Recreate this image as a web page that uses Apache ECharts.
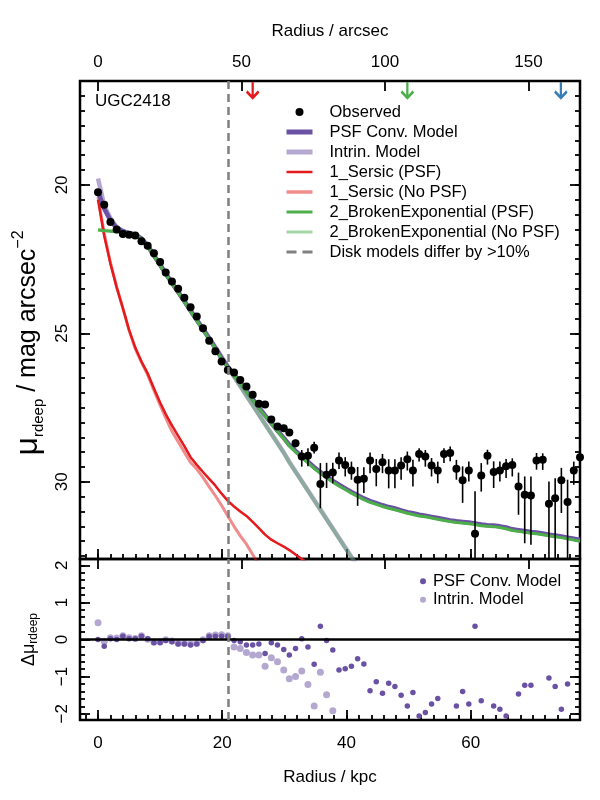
<!DOCTYPE html>
<html>
<head>
<meta charset="utf-8">
<script src="https://cdn.jsdelivr.net/npm/echarts@6/dist/echarts.min.js"></script>
<style>
  html, body { margin: 0; padding: 0; background: #fff; }
  #chart { width: 600px; height: 800px; }
</style>
</head>
<body>
<div id="chart"></div>
<script>
// ---- data (radius in kpc, surface brightness in mag arcsec^-2) ----
const radiusKpc = [
  0.0, 1.0, 2.0, 3.0, 4.0, 5.0, 6.0, 7.0, 8.0, 9.0,
  10.0, 10.9, 11.9, 12.9, 13.9, 14.9, 15.9, 16.9, 17.9, 18.9,
  19.9, 20.9, 21.9, 22.9, 23.9, 24.9, 25.9, 26.9, 27.9, 28.9,
  29.9, 30.8, 31.8, 32.8, 33.8, 34.8, 35.8, 36.8, 37.8, 38.8,
  39.8, 40.8, 41.8, 42.8, 43.8, 44.8, 45.8, 46.8, 47.8, 48.8,
  49.8, 50.7, 51.7, 52.7, 53.7, 54.7, 55.7, 56.7, 57.7, 58.7,
  59.7, 60.7, 61.7, 62.7, 63.7, 64.7, 65.7, 66.7, 67.7, 68.7,
  69.7, 70.6, 71.6, 72.6, 73.6, 74.6, 75.6, 76.6, 77.6
]
const muObs = [
  20.25, 20.67, 21.25, 21.5, 21.65, 21.68, 21.7, 21.9, 22.05, 22.3,
  22.6, 22.95, 23.25, 23.5, 23.8, 24.12, 24.43, 24.83, 25.25, 25.6,
  25.95, 26.23, 26.32, 26.57, 26.79, 27.07, 27.37, 27.4, 27.9, 28.14,
  28.2, 28.34, 28.7, 29.15, 29.12, 28.85, 30.07, 29.76, 29.69, 29.28,
  29.43, 29.62, 29.93, 29.9, 29.28, 29.57, 29.34, 29.62, 29.62, 29.45,
  29.24, 29.62, 29.06, 29.15, 29.45, 29.62, 29.06, 29.03, 29.56, 29.95,
  29.62, 31.75, 29.79, 29.12, 29.67, 29.62, 29.48, 29.43, 30.16, 30.44,
  30.46, 29.28, 29.26, 30.74, 30.55, 29.95, 30.68, 29.62, 29.17
]
const muErrBright = [
  0.03, 0.03, 0.03, 0.03, 0.03, 0.03, 0.03, 0.03, 0.03, 0.03,
  0.03, 0.03, 0.03, 0.03, 0.03, 0.03, 0.03, 0.03, 0.03, 0.03,
  0.04, 0.04, 0.05, 0.05, 0.05, 0.06, 0.06, 0.06, 0.07, 0.08,
  0.08, 0.09, 0.12, 0.22, 0.25, 0.2, 0.7, 0.4, 0.33, 0.27,
  0.26, 0.3, 0.43, 0.39, 0.27, 0.34, 0.28, 0.38, 0.38, 0.28,
  0.26, 0.36, 0.19, 0.22, 0.25, 0.3, 0.19, 0.22, 0.3, 0.47,
  0.3, 1.43, 0.42, 0.2, 0.36, 0.3, 0.25, 0.22, 0.47, 0.62,
  0.64, 0.25, 0.22, 0.75, 0.67, 0.42, 0.75, 0.3, 0.19
]
const muErrFaint = [
  0.03, 0.03, 0.03, 0.03, 0.03, 0.03, 0.03, 0.03, 0.03, 0.03,
  0.03, 0.03, 0.03, 0.03, 0.03, 0.03, 0.03, 0.03, 0.03, 0.03,
  0.04, 0.04, 0.05, 0.05, 0.06, 0.06, 0.07, 0.07, 0.08, 0.09,
  0.09, 0.1, 0.14, 0.34, 0.36, 0.2, 0.82, 0.45, 0.36, 0.29,
  0.39, 0.31, 0.88, 0.48, 0.43, 0.58, 0.37, 0.6, 0.6, 0.48,
  0.38, 0.54, 0.26, 0.34, 0.37, 0.43, 0.31, 0.28, 0.37, 0.76,
  0.37, 2.5, 0.54, 0.3, 0.54, 0.37, 0.39, 0.39, 0.95, 1.63,
  1.66, 0.31, 0.34, 2.5, 2.5, 1.1, 2.5, 0.48, 0.31
]
const muPsfModel = [
  20.22, 20.8, 21.2, 21.45, 21.56, 21.63, 21.68, 21.81, 22.05, 22.38,
  22.69, 22.99, 23.3, 23.61, 23.92, 24.24, 24.55, 24.86, 25.17, 25.5,
  25.84, 26.13, 26.38, 26.65, 26.93, 27.21, 27.49, 27.76, 28.02, 28.28,
  28.52, 28.76, 28.96, 29.14, 29.32, 29.51, 29.67, 29.82, 29.97, 30.1,
  30.22, 30.34, 30.45, 30.56, 30.65, 30.72, 30.79, 30.85, 30.9, 30.96,
  31.02, 31.06, 31.11, 31.14, 31.18, 31.22, 31.26, 31.3, 31.33, 31.35,
  31.37, 31.4, 31.44, 31.46, 31.47, 31.5, 31.54, 31.6, 31.63, 31.66,
  31.69, 31.71, 31.74, 31.78, 31.81, 31.84, 31.88, 31.92, 31.96
]
const muIntrinModel = [
  19.78, 20.7, 21.12, 21.42, 21.55, 21.62, 21.67, 21.8, 22.04, 22.37,
  22.68, 22.98, 23.29, 23.6, 23.91, 24.22, 24.53, 24.84, 25.15, 25.47,
  25.79, 26.13, 26.45, 26.77, 27.09, 27.41, 27.73, 28.05, 28.37, 28.69,
  29.01, 29.33, 29.65, 29.97, 30.29, 30.61, 30.93, 31.25, 31.57, 31.89,
  32.21, 32.53, 32.85, 33.17, null, null, null, null, null, null,
  null, null, null, null, null, null, null, null, null, null,
  null, null, null, null, null, null, null, null, null, null,
  null, null, null, null, null, null, null, null, null
]
const muSersicPsf = [
  20.5, 21.72, 22.65, 23.45, 24.15, 24.88, 25.48, 25.95, 26.35, 26.85,
  27.33, 27.72, 28.1, 28.45, 28.8, 29.17, 29.43, 29.67, 29.9, 30.13,
  30.4, 30.64, 30.83, 31.0, 31.15, 31.35, 31.56, 31.78, 31.95, 32.07,
  32.18, 32.3, 32.45, 32.6, 32.75, 32.9, null, null, null, null,
  null, null, null, null, null, null, null, null, null, null,
  null, null, null, null, null, null, null, null, null, null,
  null, null, null, null, null, null, null, null, null, null,
  null, null, null, null, null, null, null, null, null
]
const muSersicNoPsf = [
  20.4, 21.62, 22.62, 23.43, 24.15, 24.9, 25.52, 25.98, 26.4, 26.92,
  27.42, 27.85, 28.3, 28.65, 29.0, 29.35, 29.57, 29.85, 30.17, 30.47,
  30.8, 31.15, 31.5, 31.82, 32.1, 32.45, 32.8, 33.1, null, null,
  null, null, null, null, null, null, null, null, null, null,
  null, null, null, null, null, null, null, null, null, null,
  null, null, null, null, null, null, null, null, null, null,
  null, null, null, null, null, null, null, null, null, null,
  null, null, null, null, null, null, null, null, null
]
const muBrokenExpPsf = [
  21.52, 21.54, 21.56, 21.58, 21.6, 21.63, 21.67, 21.82, 22.07, 22.4,
  22.71, 23.01, 23.32, 23.63, 23.94, 24.26, 24.57, 24.88, 25.19, 25.52,
  25.86, 26.16, 26.41, 26.68, 26.96, 27.24, 27.52, 27.79, 28.05, 28.31,
  28.55, 28.79, 28.99, 29.18, 29.36, 29.55, 29.71, 29.86, 30.01, 30.14,
  30.26, 30.38, 30.49, 30.6, 30.69, 30.76, 30.83, 30.89, 30.94, 31.0,
  31.06, 31.1, 31.15, 31.18, 31.22, 31.26, 31.3, 31.34, 31.37, 31.39,
  31.41, 31.44, 31.48, 31.5, 31.51, 31.54, 31.58, 31.64, 31.67, 31.7,
  31.73, 31.75, 31.78, 31.82, 31.85, 31.88, 31.92, 31.96, 32.0
]
const muBrokenExpNoPsf = [
  21.5, 21.52, 21.54, 21.56, 21.58, 21.61, 21.65, 21.8, 22.06, 22.39,
  22.7, 23.0, 23.31, 23.62, 23.93, 24.24, 24.55, 24.86, 25.17, 25.49,
  25.81, 26.15, 26.47, 26.79, 27.11, 27.43, 27.75, 28.07, 28.39, 28.71,
  29.03, 29.35, 29.67, 29.99, 30.31, 30.63, 30.95, 31.27, 31.59, 31.91,
  32.23, 32.55, 32.87, 33.19, null, null, null, null, null, null,
  null, null, null, null, null, null, null, null, null, null,
  null, null, null, null, null, null, null, null, null, null,
  null, null, null, null, null, null, null, null, null
]
// residuals (observed - model), lower panel
const residPsf = [
  0.0, -0.18, 0.02, 0.0, 0.09, 0.02, 0.02, 0.09, 0.02, -0.09,
  -0.09, -0.03, -0.06, -0.12, -0.12, -0.15, -0.12, -0.03, 0.08, 0.09,
  0.09, 0.09, -0.03, -0.06, -0.15, -0.15, -0.12, -0.38, -0.09, -0.15,
  -0.27, -0.42, -0.24, 0.02, -0.2, -0.67, 0.36, -0.03, -0.28, -0.82,
  -0.79, -0.72, -0.52, -0.66, -1.38, -1.14, -1.45, -1.18, -1.27, -1.5,
  -1.79, -1.43, -2.06, -1.97, -1.74, -1.59, -2.2, -2.27, -1.79, -1.4,
  -1.74, 0.36, -1.65, -2.34, -1.79, -1.88, -2.06, -2.18, -1.47, -1.23,
  -1.23, -2.43, -2.48, -1.04, -1.27, -1.88, -1.2, -2.28, -2.79
]
const residIntrin = [
  0.45, -0.05, 0.05, 0.04, 0.1, 0.05, 0.03, 0.1, 0.01, -0.07,
  -0.06, -0.01, -0.04, -0.1, -0.1, -0.12, -0.1, -0.01, 0.1, 0.12,
  0.13, 0.1, -0.2, -0.24, -0.35, -0.42, -0.42, -0.72, -0.49, -0.6,
  -0.82, -1.06, -1.0, -0.85, -1.21, -1.79, -0.88, -1.49, -1.92, -2.61,
  -2.78, -2.92, null, null, null, null, null, null, null, null,
  null, null, null, null, null, null, null, null, null, null,
  null, null, null, null, null, null, null, null, null, null,
  null, null, null, null, null, null, null, null, null
]
const arrowArcsec = [53.9, 107.8, 161.3]
const arrowColors = ['#E41A1C', '#4DAF4A', '#377EB8']
const diskDiffKpc = 20.9

const kpcTicks = [0, 20, 40, 60]
const arcsecTicks = [0, 50, 100, 150]
const muTicks = [20, 25, 30]
const residTicks = [-2, -1, 0, 1, 2]

// ---- layout / style ----
const FONT = 'Liberation Sans, Arial, sans-serif'
const KPC_PER_ARCSEC = 0.462
const KPC_MIN = -2.9
const KPC_MAX = 77.6
const MU_MIN = 16.5
const MU_MAX = 32.6
const RES_MIN = -2.17
const RES_MAX = 2.17
const ARROW_MU = 16.8

const PURPLE = '#6A51A3'
const PURPLE_LIGHT = 'rgba(106,81,163,0.5)'
const PURPLE_LIGHT_KEY = '#B4A8D1'
const RED = '#E41A1C'
const RED_LIGHT = 'rgba(228,26,28,0.5)'
const GREEN = '#4DAF4A'
const GREEN_LIGHT = 'rgba(77,175,74,0.38)'
const GREEN_LIGHT_KEY = '#A6D7A4'
const GREY = '#808080'

function steps(from, to, step) {
    const out = []
    for (let v = from; v <= to + 1e-9; v += step) out.push(Math.round(v * 100) / 100)
    return out
}
const kpcMinorTicks = steps(-2, 76, 2)
const muMinorTicks = steps(16.5, 32.5, 0.5)
const residMinorTicks = steps(-2, 2, 0.2)

const pairs = (ys) => radiusKpc.map((r, i) => [r, ys[i] == null ? '-' : ys[i]])
const minus = (v) => (v < 0 ? '\u2212' + Math.abs(v) : String(v))

const tickLine = { color: '#000', width: 1.8 }

function tickAxis(gridIndex, position, min, max, ticks, length, extra) {
    return Object.assign({
        gridIndex,
        type: 'value',
        position,
        min,
        max,
        axisLine: { show: false, onZero: false },
        axisTick: { show: true, inside: true, length, customValues: ticks, lineStyle: tickLine },
        axisLabel: { show: false },
        splitLine: { show: false },
    }, extra || {})
}

const labelStyle = { show: true, color: '#000', fontSize: 17, fontFamily: FONT }
const noSymbol = { opacity: 0 }
const keyLine = (name, color, width, type) => ({
    name,
    itemStyle: noSymbol,
    lineStyle: { color, width, type: type || 'solid', opacity: 1 },
})

const option = {
    animation: false,
    backgroundColor: '#fff',
    title: {
        text: 'UGC2418',
        left: 95,
        top: 93,
        padding: 0,
        textStyle: { color: '#000', fontSize: 17, fontWeight: 'normal', fontFamily: FONT },
    },
    grid: [
        { left: 80, top: 81, width: 500, height: 478, show: true, borderColor: '#000', borderWidth: 2.5, backgroundColor: 'transparent' },
        { left: 80, top: 559, width: 500, height: 161, show: true, borderColor: '#000', borderWidth: 2.5, backgroundColor: 'transparent' },
    ],
    legend: [
        {
            orient: 'vertical',
            left: 284,
            top: 102,
            padding: 0,
            itemWidth: 26,
            itemHeight: 8,
            itemGap: 0,
            textStyle: { color: '#000', fontSize: 16.5, fontFamily: FONT, lineHeight: 20, padding: [0, 0, 0, 12] },
            data: [
                'Observed',
                keyLine('PSF Conv. Model', PURPLE, 5),
                keyLine('Intrin. Model', PURPLE_LIGHT_KEY, 5),
                keyLine('1_Sersic (PSF)', RED, 2.5),
                keyLine('1_Sersic (No PSF)', '#F18C8D', 3.5),
                keyLine('2_BrokenExponential (PSF)', GREEN, 3),
                keyLine('2_BrokenExponential (No PSF)', GREEN_LIGHT_KEY, 3),
                keyLine('Disk models differ by >10%', GREY, 3, [10, 6]),
            ],
        },
        {
            orient: 'vertical',
            left: 420,
            top: 572,
            padding: 0,
            itemWidth: 6,
            itemHeight: 6,
            itemGap: 0,
            textStyle: { color: '#000', fontSize: 16.5, fontFamily: FONT, lineHeight: 18.5, padding: [0, 0, 0, 2] },
            data: [
                { name: 'PSF Conv. Model', icon: 'circle', itemStyle: { color: PURPLE, opacity: 1 } },
                { name: 'Intrin. Model', icon: 'circle', itemStyle: { color: PURPLE_LIGHT_KEY, opacity: 1 } },
            ],
        },
    ],
    xAxis: [
        tickAxis(0, 'bottom', KPC_MIN, KPC_MAX, kpcTicks, 10),
        tickAxis(0, 'bottom', KPC_MIN, KPC_MAX, kpcMinorTicks, 5),
        tickAxis(0, 'top', KPC_MIN / KPC_PER_ARCSEC, KPC_MAX / KPC_PER_ARCSEC, arcsecTicks, 10, {
            axisLabel: Object.assign({ customValues: arcsecTicks, margin: 10 }, labelStyle),
            name: 'Radius / arcsec',
            nameLocation: 'middle',
            nameGap: 41,
            nameTextStyle: { color: '#000', fontSize: 17, fontFamily: FONT },
        }),
        tickAxis(1, 'bottom', KPC_MIN, KPC_MAX, kpcTicks, 10, {
            axisLabel: Object.assign({ customValues: kpcTicks, margin: 15 }, labelStyle),
            name: 'Radius / kpc',
            nameLocation: 'middle',
            nameGap: 49,
            nameTextStyle: { color: '#000', fontSize: 17, fontFamily: FONT },
        }),
        tickAxis(1, 'bottom', KPC_MIN, KPC_MAX, kpcMinorTicks, 5),
        tickAxis(1, 'top', KPC_MIN / KPC_PER_ARCSEC, KPC_MAX / KPC_PER_ARCSEC, arcsecTicks, 10),
    ],
    yAxis: [
        tickAxis(0, 'left', MU_MIN, MU_MAX, muTicks, 10, {
            inverse: true,
            axisLabel: Object.assign({ customValues: muTicks, rotate: 90, margin: 9 }, labelStyle),
            name: '{mu|\u03bc}{sub|rdeep}{txt| / mag arcsec}{sup|\u22122}',
            nameLocation: 'middle',
            nameGap: 33,
            nameTextStyle: {
                color: '#000',
                fontFamily: FONT,
                padding: [0, 46, 0, 0],
                rich: {
                    mu: { fontSize: 32, lineHeight: 36, verticalAlign: 'middle', color: '#000', fontFamily: FONT },
                    sub: { fontSize: 15, lineHeight: 15, verticalAlign: 'bottom', color: '#000', fontFamily: FONT },
                    txt: { fontSize: 25, lineHeight: 25, verticalAlign: 'middle', color: '#000', fontFamily: FONT },
                    sup: { fontSize: 16, lineHeight: 16, verticalAlign: 'top', color: '#000', fontFamily: FONT },
                },
            },
        }),
        tickAxis(0, 'left', MU_MIN, MU_MAX, muMinorTicks, 5, { inverse: true }),
        tickAxis(0, 'right', MU_MIN, MU_MAX, muTicks, 10, { inverse: true }),
        tickAxis(0, 'right', MU_MIN, MU_MAX, muMinorTicks, 5, { inverse: true }),
        tickAxis(1, 'left', RES_MIN, RES_MAX, residTicks, 10, {
            axisLabel: Object.assign({ customValues: residTicks, rotate: 90, margin: 9, formatter: minus }, labelStyle),
            name: '{d|\u0394\u03bc}{sub|rdeep}',
            nameLocation: 'middle',
            nameGap: 40,
            nameTextStyle: {
                color: '#000',
                fontFamily: FONT,
                rich: {
                    d: { fontSize: 18, lineHeight: 22, verticalAlign: 'middle', color: '#000', fontFamily: FONT },
                    sub: { fontSize: 12, lineHeight: 12, verticalAlign: 'bottom', color: '#000', fontFamily: FONT },
                },
            },
        }),
        tickAxis(1, 'left', RES_MIN, RES_MAX, residMinorTicks, 5),
        tickAxis(1, 'right', RES_MIN, RES_MAX, residTicks, 10),
        tickAxis(1, 'right', RES_MIN, RES_MAX, residMinorTicks, 5),
    ],
    series: [
        // upper panel models
        {
            name: 'Intrin. Model', type: 'line', xAxisIndex: 0, yAxisIndex: 0,
            data: pairs(muIntrinModel), symbol: 'none', showSymbol: false,
            lineStyle: { color: PURPLE_LIGHT, width: 4.5 }, itemStyle: { color: PURPLE_LIGHT }, z: 2,
        },
        {
            name: '2_BrokenExponential (No PSF)', type: 'line', xAxisIndex: 0, yAxisIndex: 0,
            data: pairs(muBrokenExpNoPsf), symbol: 'none', showSymbol: false,
            lineStyle: { color: GREEN_LIGHT, width: 3.5 }, itemStyle: { color: GREEN_LIGHT }, z: 2,
        },
        {
            name: '1_Sersic (No PSF)', type: 'line', xAxisIndex: 0, yAxisIndex: 0,
            data: pairs(muSersicNoPsf), symbol: 'none', showSymbol: false,
            lineStyle: { color: RED_LIGHT, width: 3 }, itemStyle: { color: RED_LIGHT }, z: 2,
        },
        {
            name: 'PSF Conv. Model', type: 'line', xAxisIndex: 0, yAxisIndex: 0,
            data: pairs(muPsfModel), symbol: 'none', showSymbol: false,
            lineStyle: { color: PURPLE, width: 4.5 }, itemStyle: { color: PURPLE }, z: 2,
        },
        {
            name: '1_Sersic (PSF)', type: 'line', xAxisIndex: 0, yAxisIndex: 0,
            data: pairs(muSersicPsf), symbol: 'none', showSymbol: false,
            lineStyle: { color: RED, width: 2.5 }, itemStyle: { color: RED }, z: 2,
        },
        {
            name: '2_BrokenExponential (PSF)', type: 'line', xAxisIndex: 0, yAxisIndex: 0,
            data: pairs(muBrokenExpPsf), symbol: 'none', showSymbol: false,
            lineStyle: { color: GREEN, width: 3 }, itemStyle: { color: GREEN }, z: 2,
        },
        {
            name: 'Disk models differ by >10%', type: 'line', xAxisIndex: 0, yAxisIndex: 0,
            data: [], symbol: 'none',
            lineStyle: { color: GREY, width: 2.5, type: [8, 5] }, itemStyle: { color: GREY }, z: 2,
            markLine: {
                silent: true, symbol: ['none', 'none'], label: { show: false },
                lineStyle: { color: GREY, width: 2.5, type: [8, 5] },
                data: [{ xAxis: diskDiffKpc }],
            },
        },
        // error bars
        {
            name: 'obsErr', type: 'custom', xAxisIndex: 0, yAxisIndex: 0, z: 3,
            data: radiusKpc.map((r, i) => [r, muObs[i] - muErrBright[i], muObs[i] + muErrFaint[i]]),
            encode: { x: 0, y: [1, 2] },
            renderItem: function (params, api) {
                const a = api.coord([api.value(0), api.value(1)])
                const b = api.coord([api.value(0), api.value(2)])
                const cs = params.coordSys
                const clamp = (y) => Math.max(cs.y, Math.min(cs.y + cs.height, y))
                return {
                    type: 'line',
                    shape: { x1: a[0], y1: clamp(a[1]), x2: b[0], y2: clamp(b[1]) },
                    style: { stroke: '#000', lineWidth: 1.6 },
                }
            },
        },
        {
            name: 'Observed', type: 'scatter', xAxisIndex: 0, yAxisIndex: 0,
            data: pairs(muObs), symbol: 'circle', symbolSize: 8,
            itemStyle: { color: '#000', opacity: 1 }, z: 4,
        },
        // arrows on the arcsec axis
        {
            name: 'arrows', type: 'scatter', xAxisIndex: 2, yAxisIndex: 0, z: 4,
            symbol: 'path://M5,0L5,15M0,9L5,15L10,9', symbolSize: [12, 16],
            data: arrowArcsec.map((a, i) => ({
                value: [a, ARROW_MU],
                itemStyle: { color: 'none', borderColor: arrowColors[i], borderWidth: 2.6, opacity: 1 },
            })),
        },
        // lower panel
        {
            name: 'lowerLines', type: 'line', xAxisIndex: 3, yAxisIndex: 4, data: [], z: 2,
            markLine: {
                silent: true, symbol: ['none', 'none'], label: { show: false },
                data: [
                    { yAxis: 0, lineStyle: { color: '#000', width: 2.5, type: 'solid' } },
                    { xAxis: diskDiffKpc, lineStyle: { color: GREY, width: 2.5, type: [8, 5] } },
                ],
            },
        },
        {
            name: 'Intrin. Model', type: 'scatter', xAxisIndex: 3, yAxisIndex: 4,
            data: pairs(residIntrin), symbol: 'circle', symbolSize: 7,
            itemStyle: { color: PURPLE_LIGHT_KEY, opacity: 1 }, z: 3,
        },
        {
            name: 'PSF Conv. Model', type: 'scatter', xAxisIndex: 3, yAxisIndex: 4,
            data: pairs(residPsf), symbol: 'circle', symbolSize: 5.5,
            itemStyle: { color: PURPLE, opacity: 1 }, z: 4,
        },
    ],
}

const chart = echarts.init(document.getElementById('chart'), null, { renderer: 'canvas' })
chart.setOption(option)
window.addEventListener('resize', () => chart.resize())
</script>
</body>
</html>
